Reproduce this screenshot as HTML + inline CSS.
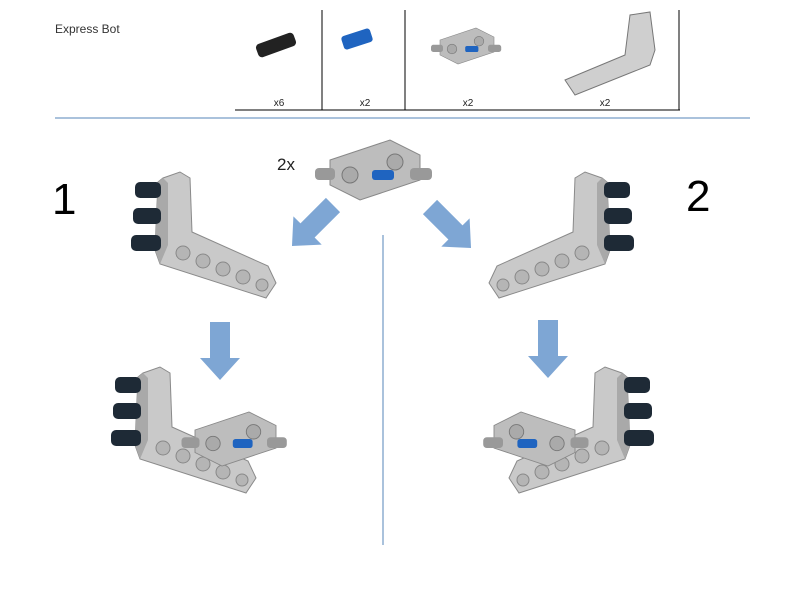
<!DOCTYPE html>
<html><head><style>body{margin:0;background:#fff}svg{display:block}</style></head><body>
<svg width="800" height="600" viewBox="0 0 800 600" xmlns="http://www.w3.org/2000/svg" font-family="Liberation Sans, sans-serif">
<defs>
<g id="beam">
<polygon points="163,178 180,172 190,178 192,232 268,266 276,283 266,298 160,264 155,250 158,182" fill="#c9c9c9" stroke="#8a8a8a"/>
<polygon points="158,182 163,178 168,183 168,245 160,264 155,250" fill="#a9a9a9"/>
<g fill="#b5b5b5" stroke="#888"><circle cx="183" cy="253" r="7"/><circle cx="203" cy="261" r="7"/><circle cx="223" cy="269" r="7"/><circle cx="243" cy="277" r="7"/><circle cx="262" cy="285" r="6"/></g>
<g fill="#1e2a36"><rect x="135" y="182" width="26" height="16" rx="5"/><rect x="133" y="208" width="28" height="16" rx="5"/><rect x="131" y="235" width="30" height="16" rx="5"/></g>
</g>
<g id="conn">
<polygon points="0,0 60,-20 90,-5 90,20 30,40 0,25" fill="#bdbdbd" stroke="#888"/>
<circle cx="20" cy="15" r="8" fill="#aaa" stroke="#777"/><circle cx="65" cy="2" r="8" fill="#aaa" stroke="#777"/>
<rect x="-15" y="8" width="20" height="12" rx="4" fill="#999"/><rect x="80" y="8" width="22" height="12" rx="4" fill="#999"/>
<rect x="42" y="10" width="22" height="10" rx="3" fill="#1f64c0"/>
</g>
<g id="arrowD"><polygon points="-10,0 10,0 10,36 20,36 0,58 -20,36 -10,36" fill="#7ea6d4"/></g>
</defs>
<text x="55" y="33" font-size="12" fill="#333">Express Bot</text>
<g stroke="#000" stroke-width="1"><line x1="235" y1="110" x2="680" y2="110"/><line x1="322" y1="10" x2="322" y2="110"/><line x1="405" y1="10" x2="405" y2="110"/><line x1="679" y1="10" x2="679" y2="110"/></g>
<g font-size="10" fill="#222" text-anchor="middle"><text x="279" y="106">x6</text><text x="365" y="106">x2</text><text x="468" y="106">x2</text><text x="605" y="106">x2</text></g>
<rect x="256" y="38" width="40" height="14" rx="4" fill="#222" transform="rotate(-20 276 45)"/>
<rect x="342" y="32" width="30" height="14" rx="3" fill="#1f64c0" transform="rotate(-18 357 39)"/>
<g transform="translate(440,40) scale(0.6)"><use href="#conn"/></g>
<polygon points="565,80 625,55 630,15 650,12 655,50 650,65 575,95" fill="#cfcfcf" stroke="#777"/>
<line x1="55" y1="118" x2="750" y2="118" stroke="#8eaed0" stroke-width="1.5"/>
<line x1="383" y1="235" x2="383" y2="545" stroke="#8eaed0" stroke-width="1.5"/>
<text x="52" y="214" font-size="44">1</text>
<text x="686" y="211" font-size="44">2</text>
<text x="277" y="170" font-size="17" fill="#222">2x</text>
<g transform="translate(330,160)"><use href="#conn"/></g>
<use href="#beam"/>
<use href="#beam" transform="translate(765,0) scale(-1,1)"/>
<use href="#beam" transform="translate(-20,195)"/>
<g transform="translate(195,430) scale(0.9)"><use href="#conn"/></g>
<use href="#beam" transform="translate(785,195) scale(-1,1)"/>
<g transform="translate(575,430) scale(-0.9,0.9)"><use href="#conn"/></g>
<use href="#arrowD" transform="translate(220,322)"/>
<use href="#arrowD" transform="translate(548,320)"/>
<use href="#arrowD" transform="translate(333,205) rotate(45)"/>
<use href="#arrowD" transform="translate(430,207) rotate(-45)"/>
</svg>
</body></html>
